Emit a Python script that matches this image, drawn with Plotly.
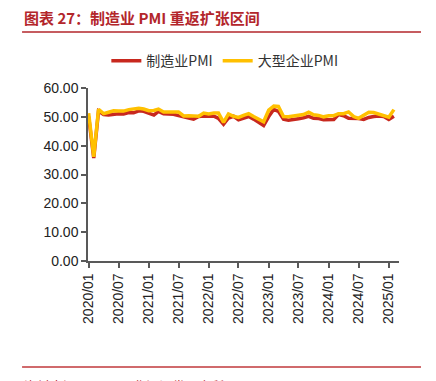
import plotly.graph_objects as go
import pandas as pd

months = pd.date_range("2020-01-01", "2025-02-01", freq="MS")

mfg_pmi = [
    50.0, 35.7, 52.0, 50.8, 50.6, 50.9, 51.1, 51.0, 51.5, 51.4, 52.1, 51.9,
    51.3, 50.6, 51.9, 51.1, 51.0, 50.9, 50.4, 50.1, 49.6, 49.2, 50.1, 50.3,
    50.1, 50.2, 49.5, 47.4, 49.6, 50.2, 49.0, 49.4, 50.1, 49.2, 48.0, 47.0,
    50.1, 52.6, 51.9, 49.2, 48.8, 49.0, 49.3, 49.7, 50.2, 49.5, 49.4, 49.0,
    49.2, 49.1, 50.8, 50.4, 49.5, 49.5, 49.4, 49.1, 49.8, 50.1, 50.3, 50.1,
    49.1, 50.2,
]
large_pmi = [
    51.3, 36.1, 52.6, 51.1, 51.6, 52.1, 52.0, 52.0, 52.5, 52.6, 53.0, 52.7,
    52.1, 52.2, 52.7, 51.7, 51.8, 51.7, 51.7, 50.3, 50.4, 50.3, 50.2, 51.3,
    51.0, 51.3, 51.3, 48.1, 51.0, 50.2, 49.8, 50.5, 51.1, 50.1, 49.1, 48.3,
    52.3, 53.7, 53.6, 50.1, 50.0, 50.3, 50.3, 50.8, 51.6, 50.7, 50.5, 50.0,
    50.4, 50.4, 51.1, 51.1, 51.7, 50.1, 49.5, 50.4, 51.6, 51.5, 50.9, 50.5,
    49.9, 52.5,
]
names = ["制造业PMI", "大型企业PMI"]
y_ticks = [0, 10, 20, 30, 40, 50, 60]
x_ticks = pd.date_range("2020-01-01", "2025-01-01", freq="6MS")

RED = "#C8281E"
YEL = "#FFC000"
TITLE_RED = "#B3262B"
AX = "#595959"
FONT = "Liberation Sans, Arial, Noto Sans CJK SC, sans-serif"
CJK = "Noto Sans CJK SC, sans-serif"

fig = go.Figure()
fig.add_trace(go.Scatter(x=months, y=mfg_pmi, name=names[0], mode="lines",
                         line=dict(color=RED, width=3.5)))
fig.add_trace(go.Scatter(x=months, y=large_pmi, name=names[1], mode="lines",
                         line=dict(color=YEL, width=3.5)))

fig.update_layout(
    width=428, height=373,
    margin=dict(l=80, r=37, t=80, b=120),
    paper_bgcolor="white", plot_bgcolor="white",
    font=dict(family=FONT, size=14, color="#222222"),
    showlegend=True,
    legend=dict(orientation="h", x=0.44, xanchor="center", y=1.155, yanchor="middle",
                font=dict(size=14, color="#333333", family=CJK),
                itemwidth=30, bgcolor="rgba(0,0,0,0)"),
    xaxis=dict(
        type="date",
        range=["2019-12-28", "2025-03-04"],
        tickvals=list(x_ticks),
        ticktext=[d.strftime("%Y/%m") for d in x_ticks],
        tickangle=-90,
        ticks="outside", ticklen=5, tickwidth=1.5, tickcolor=AX,
        showline=True, linecolor=AX, linewidth=1.5,
        showgrid=False, zeroline=False,
        tickfont=dict(size=14, color="#222222"),
    ),
    yaxis=dict(
        range=[0, 60],
        tickvals=y_ticks,
        ticktext=[f"{v:.2f}" for v in y_ticks],
        ticks="outside", ticklen=5, tickwidth=1.5, tickcolor=AX,
        showline=True, linecolor=AX, linewidth=1.5,
        showgrid=False, zeroline=False,
        tickfont=dict(size=14, color="#222222"),
    ),
)

# Title and rules
fig.add_annotation(text="<b>图表 27：制造业 PMI 重返扩张区间</b>", xref="paper", yref="paper",
                   x=-0.212, y=1.41, xanchor="left", yanchor="middle", showarrow=False,
                   font=dict(size=15, color=TITLE_RED, family=CJK))
fig.add_shape(type="line", xref="paper", yref="paper", x0=-0.212, x1=1.0707,
              y0=1.3237, y1=1.3237, line=dict(color=TITLE_RED, width=1.5))
fig.add_shape(type="line", xref="paper", yref="paper", x0=-0.212, x1=1.0707,
              y0=-0.6127, y1=-0.6127, line=dict(color="#C0393B", width=1.5))
fig.add_annotation(text="资料来源：iFinD，华源证券研究所", xref="paper", yref="paper",
                   x=-0.212, y=-0.655, xanchor="left", yanchor="top", showarrow=False,
                   font=dict(size=13, color=TITLE_RED, family=CJK))

fig.write_html("out.html")
